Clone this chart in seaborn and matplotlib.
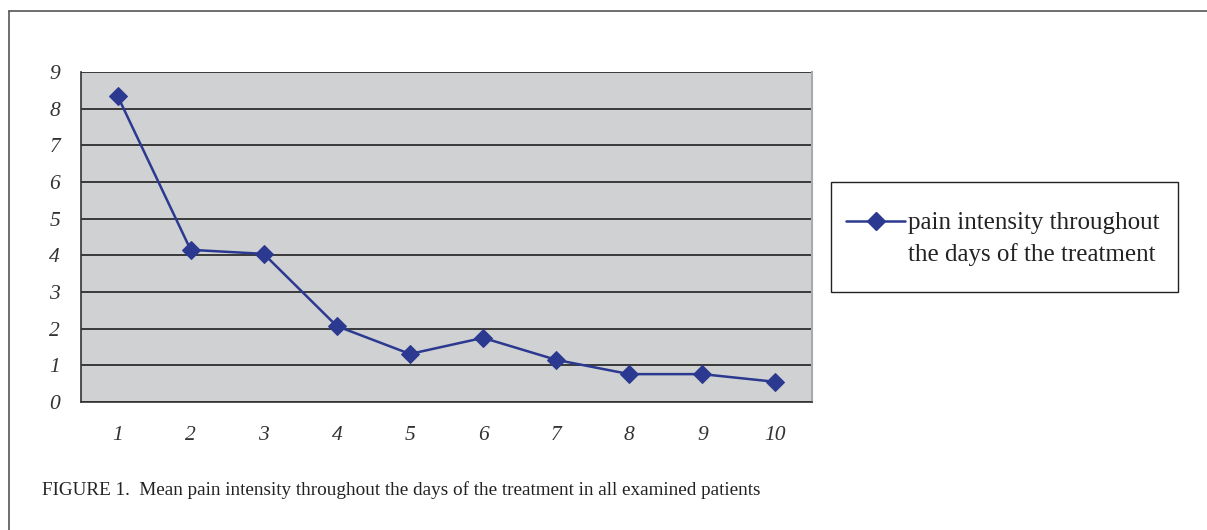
import matplotlib
matplotlib.use("Agg")
import matplotlib.pyplot as plt
import seaborn as sns
import pandas as pd
from matplotlib.lines import Line2D
from matplotlib.patches import Rectangle

days = [1, 2, 3, 4, 5, 6, 7, 8, 9, 10]
pain = [8.35, 4.15, 4.04, 2.07, 1.31, 1.75, 1.15, 0.76, 0.76, 0.55]
day_labels = ["1", "2", "3", "4", "5", "6", "7", "8", "9", "10"]
y_ticks = [0, 1, 2, 3, 4, 5, 6, 7, 8, 9]
series_label_lines = ["pain intensity throughout", "the days of the treatment"]
caption = "FIGURE 1.  Mean pain intensity throughout the days of the treatment in all examined patients"

sns.set_style("white")
plt.rcParams['font.family'] = ['Liberation Serif', 'DejaVu Serif']

W, H = 1207, 530
fig = plt.figure(figsize=(W / 100, H / 100), dpi=100)
ax = fig.add_axes([81 / W, 1 - 402 / H, (812 - 81) / W, (402 - 72) / H])

df = pd.DataFrame({"day": days, "pain": pain})
line_color = "#2B3990"
sns.lineplot(data=df, x="day", y="pain", ax=ax, color=line_color, marker="D",
             markersize=9.5, linewidth=1.8, markeredgecolor=line_color, legend=False)

ax.set_facecolor("#D0D1D3")
ax.set_xlim(0.5, 10.5)
ax.set_ylim(0, 9)
ax.set_yticks(y_ticks)
ax.set_yticklabels([str(v) for v in y_ticks], fontsize=15.5, style="italic", color="#333333")
ax.set_xticks(days)
ax.set_xticklabels(day_labels, fontsize=15.5, style="italic", color="#333333")
ax.set_xticks([d - 0.5 for d in days] + [10.5], minor=True)
ax.tick_params(axis="x", which="major", length=0, pad=17)
ax.tick_params(axis="x", which="minor", length=6, width=1, color="#333333", direction="out")
ax.tick_params(axis="y", which="major", length=6, width=1, color="#333333", direction="out", pad=9)
ax.set_xlabel("")
ax.set_ylabel("")
ax.yaxis.grid(True, color="#111111", linewidth=1.1)
ax.xaxis.grid(False)
ax.set_axisbelow(True)
for s in ["left", "bottom"]:
    ax.spines[s].set_color("#333333")
    ax.spines[s].set_linewidth(1.2)
ax.spines["top"].set_visible(False)
ax.spines["right"].set_color("#AAAAAA")
ax.spines["right"].set_linewidth(1.5)

# legend box (frame drawn as a patch for exact padding)
fig.add_artist(Rectangle((831 / W, 1 - 292 / H), (1178 - 831) / W, (292 - 182) / H,
                         transform=fig.transFigure, facecolor="white",
                         edgecolor="#222222", linewidth=1.0))
handle = Line2D([], [], color=line_color, marker="D", markersize=9.5, linewidth=1.8)
leg = fig.legend([handle], [series_label_lines[0]], loc="center left",
                 bbox_to_anchor=(846 / W, 1 - 223 / H), frameon=False,
                 fontsize=18, handlelength=2.36, borderpad=0,
                 handletextpad=0.12, borderaxespad=0)
for t in leg.get_texts():
    t.set_color("#222222")
fig.text(908 / W, 1 - 255 / H, series_label_lines[1], fontsize=18, color="#222222",
         va="center", ha="left")

fig.text(42 / W, 1 - 490 / H, caption, fontsize=13.8, color="#222222", va="center", ha="left")

# outer frame (top and left lines)
fig.add_artist(Line2D([9 / W, 1], [1 - 11 / H, 1 - 11 / H], transform=fig.transFigure,
                      color="#555555", linewidth=1.2))
fig.add_artist(Line2D([9 / W, 9 / W], [0, 1 - 11 / H], transform=fig.transFigure,
                      color="#555555", linewidth=1.2))

fig.savefig("out.png", dpi=100)
